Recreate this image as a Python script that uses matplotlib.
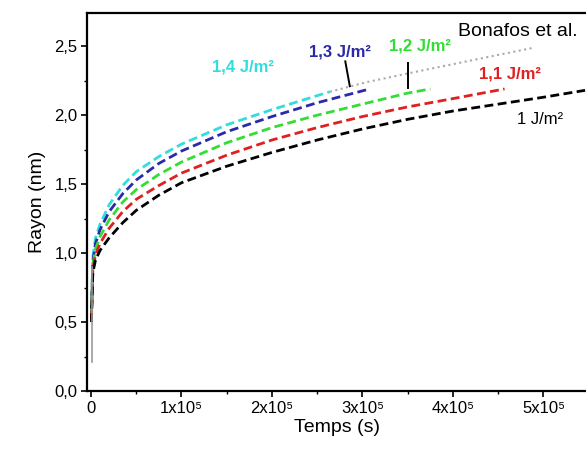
import matplotlib
matplotlib.use("Agg")
import matplotlib.pyplot as plt
import numpy as np

plt.rcParams['font.family'] = ['Liberation Sans', 'DejaVu Sans']

# curves: time in units of 1e5 s, radius in nm
t_10 = [0.005, 0.02, 0.05, 0.1, 0.2, 0.35, 0.5, 0.75, 1.0, 1.5, 2.0, 2.5, 3.0, 3.5, 4.0, 4.5, 5.0, 5.46]
r_10 = [0.50, 0.86, 0.95, 1.02, 1.11, 1.22, 1.31, 1.42, 1.51, 1.63, 1.73, 1.82, 1.90, 1.97, 2.03, 2.08, 2.13, 2.18]

t_11 = [0.005, 0.02, 0.05, 0.1, 0.2, 0.35, 0.5, 0.75, 1.0, 1.5, 2.0, 2.5, 3.0, 3.5, 4.0, 4.57]
r_11 = [0.52, 0.88, 0.99, 1.07, 1.18, 1.30, 1.39, 1.49, 1.58, 1.71, 1.82, 1.91, 1.99, 2.06, 2.12, 2.19]

t_12 = [0.005, 0.02, 0.05, 0.1, 0.2, 0.35, 0.5, 0.75, 1.0, 1.5, 2.0, 2.5, 3.0, 3.5, 3.75]
r_12 = [0.54, 0.91, 1.03, 1.12, 1.24, 1.37, 1.46, 1.57, 1.66, 1.80, 1.91, 2.00, 2.08, 2.16, 2.19]

t_13 = [0.005, 0.02, 0.05, 0.1, 0.2, 0.35, 0.5, 0.75, 1.0, 1.5, 2.0, 2.5, 3.08]
r_13 = [0.56, 0.94, 1.07, 1.17, 1.30, 1.43, 1.53, 1.65, 1.74, 1.88, 1.99, 2.09, 2.19]

t_14 = [0.005, 0.02, 0.05, 0.1, 0.2, 0.35, 0.5, 0.75, 1.0, 1.5, 2.0, 2.64]
r_14 = [0.58, 0.97, 1.11, 1.21, 1.35, 1.49, 1.59, 1.70, 1.79, 1.93, 2.04, 2.17]

# Bonafos et al. (faint dotted)
t_bon = [2.64, 3.05, 3.63, 4.30, 4.90]
r_bon = [2.17, 2.24, 2.32, 2.41, 2.49]

x_ticks = [0, 1, 2, 3, 4, 5]
x_labels = ['0', '1x10⁵', '2x10⁵', '3x10⁵', '4x10⁵', '5x10⁵']
y_ticks = [0.0, 0.5, 1.0, 1.5, 2.0, 2.5]
y_labels = ['0,0', '0,5', '1,0', '1,5', '2,0', '2,5']

fig = plt.figure(figsize=(5.86, 4.59), dpi=100)
ax = fig.add_axes([0.1485, 0.148, 0.8515, 0.8235])

sc = 1e5
dash = (0, (3.2, 1.6))
ax.plot(np.array(t_bon) * sc, r_bon, ls=':', color='#aaaaaa', lw=1.5)
ax.plot(np.array(t_14) * sc, r_14, ls=dash, color='#33dddd', lw=2)
ax.plot(np.array(t_13) * sc, r_13, ls=dash, color='#2a2aa8', lw=2)
ax.plot(np.array(t_12) * sc, r_12, ls=dash, color='#33dd33', lw=2)
ax.plot(np.array(t_11) * sc, r_11, ls=dash, color='#e02020', lw=2)
ax.plot(np.array(t_10) * sc, r_10, ls=dash, color='black', lw=2)
ax.plot([0.01 * sc, 0.01 * sc], [0.21, 0.9], color='#999999', lw=1.2)

ax.set_xlim(-0.044 * sc, 5.47 * sc)
ax.set_ylim(0, 2.74)

ax.set_xticks(np.array(x_ticks) * sc)
ax.set_xticklabels(x_labels)
ax.set_xticks(np.arange(0.5, 5.5, 1) * sc, minor=True)
ax.set_yticks(y_ticks)
ax.set_yticklabels(y_labels)
ax.set_yticks(np.arange(0.25, 2.75, 0.5), minor=True)
ax.tick_params(which='major', direction='out', length=4, width=1.2, labelsize=12, pad=3)
ax.tick_params(which='minor', direction='out', length=2, width=1)

for s in ['left', 'bottom', 'top']:
    ax.spines[s].set_linewidth(1.6)
ax.spines['right'].set_visible(False)

ax.set_xlabel('Temps (s)', fontsize=14, labelpad=2)
ax.set_ylabel('Rayon (nm)', fontsize=14, labelpad=6)

ax.text(1.68 * sc, 2.35, '1,4 J/m²', color='#33dddd', fontsize=12, fontweight='bold', ha='center', va='center')
ax.text(2.75 * sc, 2.46, '1,3 J/m²', color='#2a2aa8', fontsize=12, fontweight='bold', ha='center', va='center')
ax.text(3.64 * sc, 2.50, '1,2 J/m²', color='#33dd33', fontsize=12, fontweight='bold', ha='center', va='center')
ax.text(4.63 * sc, 2.30, '1,1 J/m²', color='#e02020', fontsize=12, fontweight='bold', ha='center', va='center')
ax.text(4.96 * sc, 1.97, '1 J/m²', color='black', fontsize=12, ha='center', va='center')
ax.text(4.72 * sc, 2.61, 'Bonafos et al.', color='black', fontsize=14, ha='center', va='center')

ax.plot([2.81 * sc, 2.86 * sc], [2.39, 2.21], color='black', lw=1.4)
ax.plot([3.50 * sc, 3.50 * sc], [2.38, 2.20], color='black', lw=1.4)

fig.savefig('out.png', dpi=100)
